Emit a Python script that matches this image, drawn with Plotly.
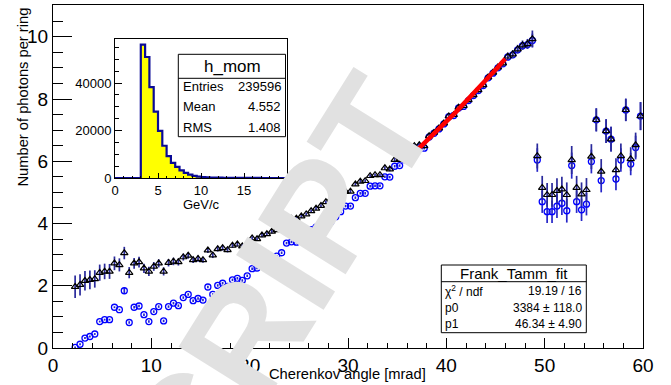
import plotly.graph_objects as go
import numpy as np

# ---------------- data ----------------
angle_mrad = [2.25 + 0.5 * i for i in range(116)]  # bin centres

n_tri = [1.97, 2.03, 2.16, 2.19, 2.22, 2.42, 2.46, 2.46, 2.72, 2.67,
         3.05, 2.42, 2.72, 2.76, 2.56, 2.46, 2.62, 2.72, 2.46, 2.74,
         2.78, 2.76, 2.92, 2.97, 2.83, 2.87, 2.83, 3.14, 2.98, 3.18,
         3.21, 3.15, 3.29, 3.33, 3.27, 3.35, 3.53, 3.50, 3.62, 3.66,
         3.74, 3.79, 3.95, 4.10, 4.15, 4.16, 4.23, 4.30, 4.40, 4.48,
         4.57, 4.69, 4.78, 4.85, 4.93, 5.02, 5.03, 5.26, 5.35, 5.37,
         5.53, 5.56, 5.56, 5.78, 5.74, 6.05, 6.05, 6.25, 6.35, 6.49,
         6.52, 6.49, 6.81, 6.92, 7.06, 7.22, 7.45, 7.49, 7.73, 7.78,
         7.97, 8.13, 8.29, 8.45, 8.70, 8.85, 9.02, 9.15, 9.37, 9.44,
         9.60, 9.73, 9.77, 9.93, 6.17, 5.15, 4.92, 4.92, 5.05, 5.10,
         4.92, 6.04, 5.15, 4.94, 5.08, 6.15, 7.33, 5.67, 6.97, 6.71,
         5.72, 6.17, 7.65, 6.07, 6.52, 7.45]

n_tri_err = [0.36, 0.34, 0.31, 0.30, 0.28, 0.26, 0.25, 0.24, 0.22, 0.21,
             0.20, 0.18, 0.17, 0.17, 0.15, 0.15, 0.14, 0.13, 0.13, 0.12,
             0.12, 0.11, 0.11, 0.10, 0.10, 0.10, 0.09, 0.09, 0.09, 0.08,
             0.08, 0.08, 0.07, 0.07, 0.07, 0.07, 0.06, 0.06, 0.06, 0.06,
             0.06, 0.06, 0.05, 0.05, 0.05, 0.05, 0.05, 0.05, 0.05, 0.05,
             0.05, 0.05, 0.05, 0.05, 0.05, 0.05, 0.05, 0.05, 0.05, 0.05,
             0.05, 0.05, 0.05, 0.06, 0.06, 0.06, 0.06, 0.06, 0.06, 0.07,
             0.07, 0.07, 0.07, 0.07, 0.07, 0.08, 0.08, 0.08, 0.08, 0.09,
             0.09, 0.09, 0.10, 0.10, 0.10, 0.11, 0.11, 0.12, 0.12, 0.13,
             0.14, 0.15, 0.16, 0.27, 0.40, 0.38, 0.38, 0.38, 0.40, 0.40,
             0.40, 0.45, 0.38, 0.38, 0.38, 0.40, 0.37, 0.40, 0.38, 0.40,
             0.38, 0.40, 0.36, 0.38, 0.40, 0.45]

n_circ = [0.02, 0.12, 0.32, 0.37, 0.45, 0.85, 0.91, 0.91, 1.31, 1.23,
          1.84, 0.82, 1.31, 1.35, 1.07, 0.85, 1.17, 1.33, 0.87, 1.33,
          1.44, 1.36, 1.62, 1.72, 1.52, 1.59, 1.54, 1.96, 1.72, 2.01,
          2.08, 1.98, 2.19, 2.24, 2.17, 2.32, 2.55, 2.57, 2.63, 2.72,
          2.89, 2.95, 3.06, 3.37, 3.41, 3.40, 3.55, 3.68, 3.80, 3.88,
          3.95, 4.00, 4.05, 4.22, 4.38, 4.56, 4.56, 4.83, 4.97, 4.97,
          5.20, 5.21, 5.21, 5.50, 5.49, 5.84, 5.86, 6.05, 6.20, 6.42,
          6.45, 6.42, 6.78, 6.90, 7.04, 7.20, 7.43, 7.47, 7.71, 7.76,
          7.95, 8.11, 8.27, 8.43, 8.68, 8.83, 9.00, 9.13, 9.35, 9.42,
          9.58, 9.71, 9.75, 9.88, 6.04, 4.70, 4.38, 4.38, 4.56, 4.65,
          4.41, 5.86, 4.70, 4.44, 4.62, 5.99, 7.33, 5.38, 6.97, 6.71,
          5.43, 6.04, 7.65, 5.91, 6.44, 7.45]

n_circ_err = [0.03] * 10 + [0.10] + [0.04] * 79 + [0.10, 0.12, 0.14, 0.22] + \
             [0.38, 0.36, 0.36, 0.36, 0.38, 0.38, 0.38, 0.42, 0.36, 0.36, 0.36,
              0.38, 0.37, 0.38, 0.38, 0.40, 0.36, 0.38, 0.36, 0.36, 0.38, 0.45]

# momentum histogram (inset)
mom_bin_width = 0.5
mom_counts = [0, 0, 0, 0, 0, 0,
              56250, 51000, 38300, 28000, 19900, 13600, 9200, 6400, 4650, 3250,
              2150, 1400, 900, 600, 420, 300, 220, 160, 120, 90,
              70, 50, 40, 30, 25, 20, 15, 12, 10, 8, 6, 5, 4, 3]
mom_edges = [i * mom_bin_width for i in range(len(mom_counts) + 1)]

# Frank-Tamm fit parameters
fit_p0, fit_p1 = 3384.0, 46.34
fit_range = (37.0, 46.0)

# ---------------- helpers (pixel -> paper) ----------------
L, R, T, B = 53, 28, 5, 37
W, H = 671 - L - R, 385 - T - B


def px(x):
    return (x - L) / W


def py(y):
    return (385 - B - y) / H


FONT = "Liberation Sans, Arial, Helvetica, sans-serif"

fig = go.Figure()

fig.add_trace(go.Scatter(
    x=angle_mrad, y=n_circ, mode="markers",
    marker=dict(symbol="circle-open", size=6, color="#0000ff",
                line=dict(width=1.3, color="#0000ff")),
    error_y=dict(type="data", array=n_circ_err, color="#2626c8",
                 thickness=1.7, width=0),
    showlegend=False))

fig.add_trace(go.Scatter(
    x=angle_mrad, y=n_tri, mode="markers",
    marker=dict(symbol="triangle-up-open", size=6.5, color="black",
                line=dict(width=1.2, color="black")),
    error_y=dict(type="data", array=n_tri_err, color="#2a2a9c",
                 thickness=1.7, width=0),
    showlegend=False))

# fit curve (drawn on top)
th = np.linspace(fit_range[0], fit_range[1], 60)
fit_y = fit_p0 * (th / 1000.0) ** 2 + fit_p1 * (th / 1000.0)
fig.add_trace(go.Scatter(x=th, y=fit_y, mode="lines",
                         line=dict(color="#ff0000", width=4.5),
                         hoverinfo="skip", showlegend=False))

# inset histogram
fig.add_trace(go.Scatter(
    x=mom_edges, y=mom_counts + [mom_counts[-1]], mode="lines",
    line=dict(shape="hv", color="#0a0a96", width=2.2),
    fill="tozeroy", fillcolor="#ffff00",
    xaxis="x2", yaxis="y2", showlegend=False, hoverinfo="skip"))

axis_common = dict(showgrid=False, zeroline=False, showline=True,
                   linecolor="black", linewidth=1, mirror=True,
                   ticks="inside", tickcolor="black", tickwidth=1)

fig.update_layout(
    width=671, height=385,
    margin=dict(l=L, r=R, t=T, b=B),
    paper_bgcolor="white", plot_bgcolor="white",
    font=dict(family=FONT, color="black"),
    showlegend=False,
    xaxis=dict(range=[0, 60], tick0=0, dtick=10, ticklen=10,
               tickfont=dict(size=19),
               minor=dict(dtick=2, ticklen=5, ticks="inside",
                          tickcolor="black"),
               **axis_common),
    yaxis=dict(range=[0, 11.02], tick0=0, dtick=2, ticklen=19,
               tickfont=dict(size=19),
               minor=dict(dtick=0.5, ticklen=10, ticks="inside",
                          tickcolor="black"),
               **axis_common),
    xaxis2=dict(domain=[px(115), px(287)], anchor="y2", range=[0, 20],
                tick0=0, dtick=5, ticklen=5, tickfont=dict(size=13),
                minor=dict(dtick=1, ticklen=2.5, ticks="inside",
                           tickcolor="black"),
                **axis_common),
    yaxis2=dict(domain=[py(178), py(38.5)], anchor="x2", range=[0, 58800],
                tick0=0, dtick=20000, ticklen=7, tickformat="d",
                tickfont=dict(size=13),
                minor=dict(dtick=5000, ticklen=4, ticks="inside",
                           tickcolor="black"),
                **axis_common),
)

shapes = []
annotations = []


def note(text, x, y, size, xanchor="center", **kw):
    annotations.append(dict(text=text, x=px(x), y=py(y), xref="paper",
                            yref="paper", xanchor=xanchor, yanchor="middle",
                            showarrow=False, font=dict(size=size), **kw))


# h_mom stats box
shapes.append(dict(type="rect", xref="paper", yref="paper",
                   x0=px(178.3), x1=px(285.5), y0=py(136.7), y1=py(54.3),
                   line=dict(color="black", width=1), fillcolor="white"))
shapes.append(dict(type="line", xref="paper", yref="paper",
                   x0=px(178.3), x1=px(285.5), y0=py(78.3), y1=py(78.3),
                   line=dict(color="black", width=1)))
note("h_mom", 232, 66.5, 17)
for lab, val, yy in [("Entries", "239596", 86.5), ("Mean", "4.552", 106.5),
                     ("RMS", "1.408", 127)]:
    note(lab, 181, yy, 13, xanchor="left")
    note(val, 283, yy, 13, xanchor="right")

# fit stats box
shapes.append(dict(type="rect", xref="paper", yref="paper",
                   x0=px(441.3), x1=px(586.3), y0=py(332.7), y1=py(265),
                   line=dict(color="black", width=1), fillcolor="white"))
shapes.append(dict(type="line", xref="paper", yref="paper",
                   x0=px(441.3), x1=px(586.3), y0=py(281.7), y1=py(281.7),
                   line=dict(color="black", width=1)))
note("Frank_Tamm_fit", 514, 273.5, 15)
for lab, val, yy in [("χ<sup>2</sup> / ndf", "19.19 / 16", 291),
                     ("p0", "3384 ± 118.0", 308),
                     ("p1", "46.34 ± 4.90", 324)]:
    note(lab, 443, yy, 12, xanchor="left")
    note(val, 584, yy, 12, xanchor="right")

# axis titles
note("Number of photons per ring", 22, 97.5, 14.7, textangle=-90)
note("Cherenkov angle [mrad]", 347, 373.5, 14.7)
note("GeV/c", 201, 204, 13)

# watermark
annotations.append(dict(text="<b>SCRIPT</b>", x=px(252), y=py(326),
                        xref="paper", yref="paper", showarrow=False,
                        textangle=-58, xanchor="center", yanchor="middle",
                        font=dict(size=150, color="#e1e1e1", family=FONT)))

fig.update_layout(shapes=shapes, annotations=annotations)

fig.write_html("out.html", config={"displayModeBar": False},
               post_script="document.body.style.margin='0px';")
